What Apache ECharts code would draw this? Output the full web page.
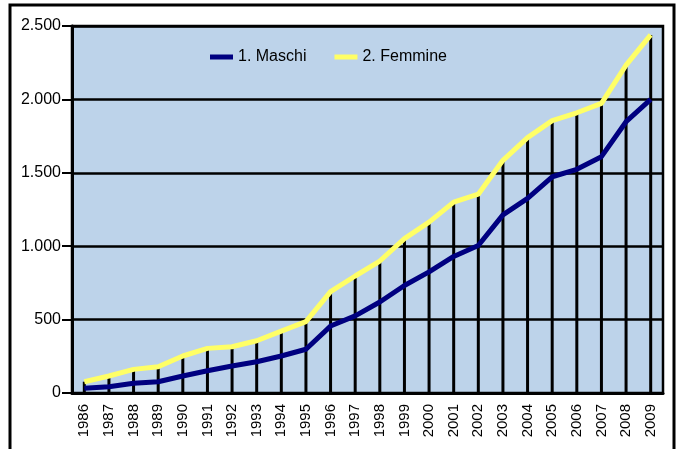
<!DOCTYPE html>
<html>
<head>
<meta charset="utf-8">
<script src="https://cdn.jsdelivr.net/npm/echarts@6/dist/echarts.min.js"></script>
<style>html,body{margin:0;padding:0;background:#fff}#c{width:678px;height:449px}</style>
</head>
<body>
<div id="c"></div>
<script>
var years = ['1986','1987','1988','1989','1990','1991','1992','1993','1994','1995','1996','1997','1998','1999','2000','2001','2002','2003','2004','2005','2006','2007','2008','2009'];
var maschi = [32,43,66,77,116,152,184,213,252,298,456,525,620,732,825,930,1005,1213,1326,1473,1524,1610,1848,2000];
var femmine = [77,116,161,179,252,304,315,356,422,486,690,797,899,1052,1164,1300,1354,1585,1740,1855,1909,1973,2234,2439];
var seriesNames = ['1. Maschi','2. Femmine'];

var chart = echarts.init(document.getElementById('c'), null, {renderer:'canvas'});
var font = 'Liberation Sans, Arial, sans-serif';
chart.setOption({
  animation:false,
  graphic:[{type:'rect', shape:{x:10,y:5,width:664,height:460}, style:{fill:'none', stroke:'#000', lineWidth:3}, z:-10}],
  grid:{left:72, top:26, right:15, bottom:56, show:true, backgroundColor:'#bdd3ea', borderColor:'#000', borderWidth:2.5},
  legend:{
    left:205, top:44, itemWidth:23, itemHeight:5, itemGap:28,
    textStyle:{fontFamily:font, fontSize:16, color:'#000'},
    data:[{name:seriesNames[0], icon:'rect'},{name:seriesNames[1], icon:'rect'}]
  },
  xAxis:{
    type:'category', data:years, boundaryGap:true,
    axisLine:{lineStyle:{color:'#000', width:3}},
    axisTick:{show:false},
    axisLabel:{rotate:90, fontFamily:font, fontSize:15, color:'#000', margin:11},
    splitLine:{show:false}
  },
  yAxis:{
    type:'value', min:0, max:2500, interval:500,
    axisLine:{show:true, lineStyle:{color:'#000', width:3}},
    axisTick:{show:true, length:10, lineStyle:{color:'#000', width:2}},
    axisLabel:{fontFamily:font, fontSize:16, color:'#000', margin:11,
      formatter:function(v){return String(v).replace(/\B(?=(\d{3})+(?!\d))/g,'.');}},
    splitLine:{show:true, lineStyle:{color:'#000', width:2.5}}
  },
  series:[
    {type:'bar', name:'drop', data:femmine, barWidth:3, itemStyle:{color:'#000'}, silent:true, z:1, legendHoverLink:false},
    {type:'line', name:seriesNames[0], data:maschi, symbol:'none', lineStyle:{color:'#000080', width:5}, itemStyle:{color:'#000080'}, z:3},
    {type:'line', name:seriesNames[1], data:femmine, symbol:'none', lineStyle:{color:'#ffff66', width:5}, itemStyle:{color:'#ffff66'}, z:2}
  ]
});
</script>
</body>
</html>
